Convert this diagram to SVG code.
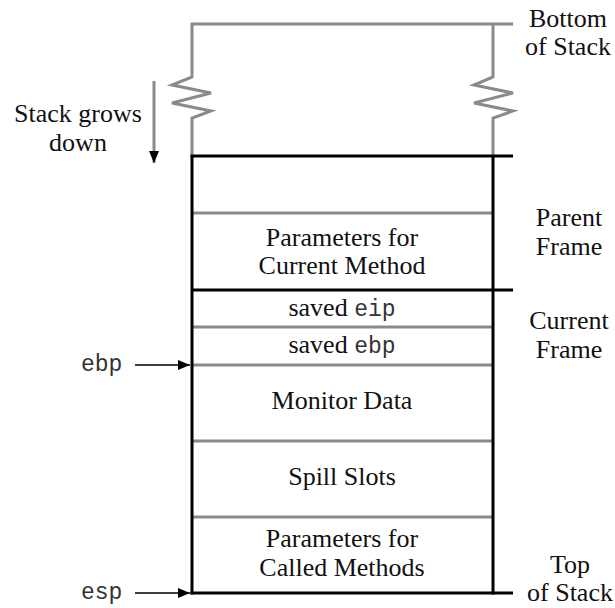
<svg xmlns="http://www.w3.org/2000/svg" width="615" height="608" viewBox="0 0 615 608">
<style>
.t{font-family:"Liberation Serif","Times New Roman",serif;font-size:26px;fill:#111;text-anchor:middle}
.m{font-family:"Liberation Mono","Courier New",monospace;font-size:23px;fill:#333}
.g{stroke:#8a8a8a;stroke-width:3;fill:none}
.k{stroke:#000;stroke-width:3;fill:none}
.a{stroke:#000;stroke-width:1.5;fill:none}
</style>
<defs>
<marker id="ah" viewBox="0 0 12 10" refX="12" refY="5" markerWidth="12" markerHeight="10" markerUnits="userSpaceOnUse" orient="auto">
<path d="M0,0 L12,5 L0,10 Z" fill="#000"/>
</marker>
</defs>
<g id="stack-bottom">
<path class="g" d="M192,156 V118 L211,111 L172,103 L211,93 L172,85 L192,77 V24 H513"/>
<path class="g" d="M493,24 V77 L474,85 L513,93 L474,103 L513,111 L493,118 V156"/>
</g>
<g id="parent-empty">
<line class="g" x1="192" y1="213" x2="493" y2="213"/>
</g>
<g id="params-current">
<text class="t" x="342" y="246">Parameters for<tspan x="342" dy="28">Current Method</tspan></text>
</g>
<g id="saved-eip">
<text class="t" x="342" y="316">saved <tspan class="m">eip</tspan></text>
<line class="g" x1="192" y1="327" x2="493" y2="327"/>
</g>
<g id="saved-ebp">
<text class="t" x="342" y="353">saved <tspan class="m">ebp</tspan></text>
<line class="g" x1="192" y1="365" x2="493" y2="365"/>
</g>
<g id="monitor-data">
<text class="t" x="342" y="409">Monitor Data</text>
<line class="g" x1="192" y1="441" x2="493" y2="441"/>
</g>
<g id="spill-slots">
<text class="t" x="342" y="485">Spill Slots</text>
<line class="g" x1="192" y1="517" x2="493" y2="517"/>
</g>
<g id="params-called">
<text class="t" x="342" y="547">Parameters for<tspan x="342" dy="29">Called Methods</tspan></text>
</g>
<g id="frame-outline">
<line class="k" x1="190.5" y1="156" x2="513" y2="156"/>
<line class="k" x1="192" y1="290" x2="513" y2="290"/>
<line class="k" x1="190.5" y1="593" x2="513" y2="593"/>
<line class="k" x1="192" y1="156" x2="192" y2="594.5"/>
<line class="k" x1="493" y1="156" x2="493" y2="594.5"/>
</g>
<g id="labels">
<text class="t" x="568" y="27">Bottom<tspan x="568" dy="28">of Stack</tspan></text>
<text class="t" x="569" y="226">Parent<tspan x="569" dy="28.5">Frame</tspan></text>
<text class="t" x="569" y="329">Current<tspan x="569" dy="28.5">Frame</tspan></text>
<text class="t" x="570" y="572.5">Top<tspan x="570" dy="28.5">of Stack</tspan></text>
<text class="t" x="78" y="122">Stack grows<tspan x="78" dy="28.5">down</tspan></text>
<text class="m" x="81" y="371">ebp</text>
<text class="m" x="81" y="599">esp</text>
</g>
<g id="connectors">
<line class="g" x1="154" y1="81" x2="154" y2="163" stroke-width="2" marker-end="url(#ah)"/>
<line class="a" x1="135" y1="365" x2="190" y2="365" marker-end="url(#ah)"/>
<line class="a" x1="135" y1="593" x2="190" y2="593" marker-end="url(#ah)"/>
</g>
</svg>
